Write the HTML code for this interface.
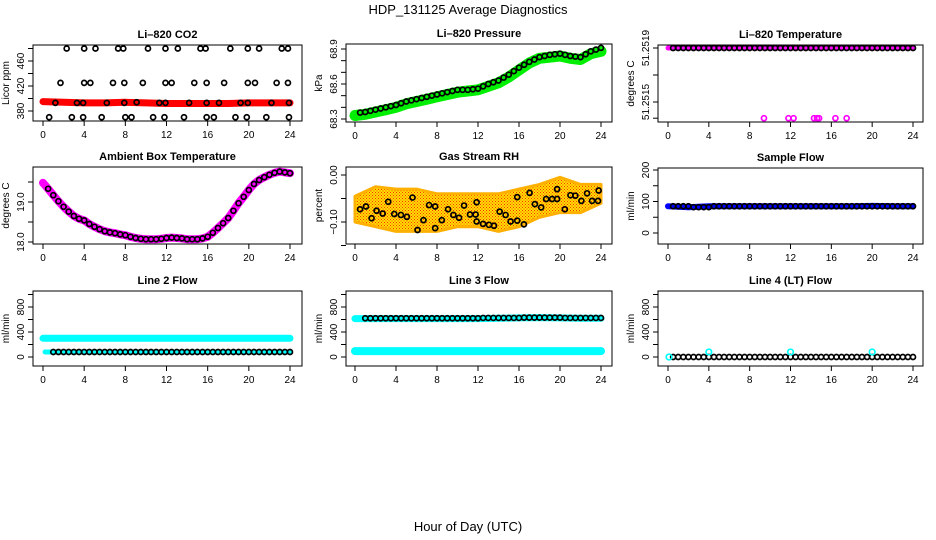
<!DOCTYPE html>
<html><head><meta charset="utf-8"><style>
html,body{margin:0;padding:0;background:#fff;}
svg{display:block;font-family:"Liberation Sans",Arial,sans-serif;}
</style></head><body>
<svg id="c" width="936" height="540" viewBox="0 0 936 540" xmlns="http://www.w3.org/2000/svg">
<text x="468" y="14" font-size="13" text-anchor="middle">HDP_131125  Average Diagnostics</text>
<text x="468" y="531" font-size="13" text-anchor="middle">Hour of Day (UTC)</text>
</svg>
<script>
const HALF = [0.5,1,1.5,2,2.5,3,3.5,4,4.5,5,5.5,6,6.5,7,7.5,8,8.5,9,9.5,10,10.5,11,11.5,12,12.5,13,13.5,14,14.5,15,15.5,16,16.5,17,17.5,18,18.5,19,19.5,20,20.5,21,21.5,22,22.5,23,23.5,24];
const X_TICKS = [0,4,8,12,16,20,24];
const BAND_H = [0,2,4,6,8,10,12,14,16,18,20,22,24];

const CO2_HOURS = [2.3,4.0,5.1,7.3,7.8,10.2,11.9,13.1,15.3,15.8,18.2,19.9,21.0,23.2,23.8, 1.7,4.0,4.6,6.8,7.9,9.7,11.9,12.5,14.7,15.9,17.6,19.9,20.6,22.7,23.8, 1.2,3.3,3.9,6.2,7.9,9.1,11.3,11.9,14.2,15.9,17.1,19.2,19.9,22.2,23.9, 0.6,2.8,3.9,5.7,8.0,8.6,10.7,11.8,13.7,15.9,16.6,18.7,19.8,21.7,23.9];
const CO2_VALUES = [480,480,480,480,480,480,480,480,480,480,480,480,480,480,480, 425,425,425,425,425,425,425,425,425,425,425,425,425,425,425, 393,393,393,393,393,394,393,393,393,393,393,393,393,393,393, 370,370,370,370,370,370,370,370,370,370,370,370,370,370,370];
const CO2_BAND = [395,394,393,393,394,393,392,392,392,392,393,393,393];

const PRES_H = [0,1,2,3,4,5,6,7,8,9,10,11,12,13,14,15,16,17,18,19,20,21,22,23,24];
const PRES_VALUES = [68.35,68.36,68.38,68.40,68.42,68.45,68.47,68.49,68.51,68.53,68.55,68.55,68.56,68.60,68.63,68.68,68.74,68.79,68.83,68.85,68.86,68.84,68.83,68.88,68.91];
const PRES_BAND = [68.33,68.34,68.36,68.38,68.40,68.43,68.45,68.47,68.49,68.51,68.53,68.54,68.55,68.58,68.61,68.66,68.72,68.78,68.82,68.83,68.84,68.82,68.81,68.86,68.88];

const TEMP_TOP = [51.2519,51.2519,51.2519,51.2519,51.2519,51.2519,51.2519,51.2519,51.2519,51.2519,51.2519,51.2519,51.2519,51.2519,51.2519,51.2519,51.2519,51.2519,51.2519,51.2519,51.2519,51.2519,51.2519,51.2519,51.2519,51.2519,51.2519,51.2519,51.2519,51.2519,51.2519,51.2519,51.2519,51.2519,51.2519,51.2519,51.2519,51.2519,51.2519,51.2519,51.2519,51.2519,51.2519,51.2519,51.2519,51.2519,51.2519,51.2519];
const TEMP_LOW_H = [9.4,11.8,12.3,14.3,14.6,14.8,16.4,17.5];
const TEMP_LOW_V = [51.25138,51.25138,51.25138,51.25138,51.25138,51.25138,51.25138,51.25138];

const AMB_H = [0,0.5,1,1.5,2,2.5,3,3.5,4,4.5,5,5.5,6,6.5,7,7.5,8,8.5,9,9.5,10,10.5,11,11.5,12,12.5,13,13.5,14,14.5,15,15.5,16,16.5,17,17.5,18,18.5,19,19.5,20,20.5,21,21.5,22,22.5,23,23.5,24];
const AMB_VALUES = [19.48,19.33,19.17,19.02,18.88,18.76,18.65,18.58,18.54,18.45,18.38,18.32,18.27,18.24,18.22,18.19,18.17,18.13,18.10,18.08,18.07,18.07,18.07,18.08,18.10,18.11,18.10,18.09,18.07,18.07,18.07,18.09,18.13,18.23,18.35,18.47,18.60,18.78,18.97,19.13,19.30,19.45,19.55,19.62,19.68,19.73,19.76,19.74,19.72];

const RH_H = [0.49,1.07,1.62,2.1,2.7,3.24,3.83,4.48,5.06,5.61,6.1,6.68,7.23,7.82,7.82,8.47,9.08,9.6,10.15,10.64,11.22,11.77,11.87,11.87,12.49,13.07,13.56,14.11,14.69,15.18,15.83,15.83,16.48,17.03,17.55,18.16,18.65,19.23,19.72,19.72,20.47,21.02,21.5,22.09,22.64,23.13,23.71,23.77];
const RH_VALUES = [-0.073,-0.067,-0.092,-0.076,-0.082,-0.057,-0.083,-0.085,-0.089,-0.048,-0.117,-0.096,-0.064,-0.067,-0.113,-0.096,-0.073,-0.085,-0.091,-0.065,-0.084,-0.084,-0.058,-0.099,-0.104,-0.106,-0.108,-0.078,-0.085,-0.099,-0.047,-0.097,-0.105,-0.038,-0.062,-0.069,-0.051,-0.051,-0.030,-0.051,-0.073,-0.043,-0.044,-0.055,-0.039,-0.055,-0.055,-0.033];
const RH_UPPER = [-0.045,-0.025,-0.03,-0.03,-0.04,-0.04,-0.04,-0.04,-0.03,-0.02,-0.005,-0.02,-0.02];
const RH_LOWER = [-0.10,-0.11,-0.12,-0.12,-0.12,-0.11,-0.11,-0.12,-0.11,-0.09,-0.08,-0.08,-0.06];

const SF_VALUES = [85,85,85,85,82,82,82,82,85,85,85,85,85,85,85,85,85,85,85,85,85,85,85,85,85,85,85,85,85,85,85,85,85,85,85,85,85,85,85,85,85,85,85,85,85,85,85,85];
const SF_BAND = [85,82,85,85,85,85,85,85,85,85,86,85,85];

const L2_BLACK = [80,80,80,80,80,80,80,80,80,80,80,80,80,80,80,80,80,80,80,80,80,80,80,80,80,80,80,80,80,80,80,80,80,80,80,80,80,80,80,80,80,80,80,80,80,80,80,80];
const L2_CYAN = [300,300,300,300,300,300,300,300,300,300,300,300,300];
const L3_BLACK = [620,620,620,620,620,620,620,620,620,620,620,620,620,620,620,620,620,620,620,620,620,620,620,620,625,625,625,625,625,625,625,625,630,630,630,630,630,630,630,630,625,625,625,625,625,625,625,625];
const L3_CYAN_TOP = [615,615,615,615,615,615,615,620,625,630,625,620,620];
const L3_CYAN_LOW = [95,95,95,95,95,95,95,95,95,95,95,95,95];
const L4_BLACK = [0,0,0,0,0,0,0,0,0,0,0,0,0,0,0,0,0,0,0,0,0,0,0,0,0,0,0,0,0,0,0,0,0,0,0,0,0,0,0,0,0,0,0,0,0,0,0,0];
const L4_CYAN_H = [0.1,4,12,20];
const L4_CYAN_V = [0,80,80,80];

const svg = document.getElementById('c');
const NS = 'http://www.w3.org/2000/svg';
function mk(tag, attrs, parent){
  const e = document.createElementNS(NS, tag);
  for (const k in attrs) e.setAttribute(k, attrs[k]);
  (parent||svg).appendChild(e);
  return e;
}
function panel(name, title, ylab, box, x0, x24, yv1, yp1, yv2, yp2, yTicks, yLabels, showXLabels){
  const g = mk('g', {});
  
  
  const xs = h => x0 + (x24 - x0) * h / 24;
  const ys = v => yp1 + (v - yv1) * (yp2 - yp1) / (yv2 - yv1);
  const t = mk('text', {x:(box.l+box.r)/2, y:box.t-7, 'font-size':11, 'font-weight':'bold', 'text-anchor':'middle'}, g);
  t.textContent = title;
  
  
  const yl = mk('text', {x:0, y:0, 'font-size':10, 'text-anchor':'middle', transform:`translate(${box.l-24},${(box.t+box.b)/2}) rotate(-90)`}, g);
  yl.textContent = ylab;
  
  
  const ax = mk('g', {stroke:'#000', 'stroke-width':1}, g);
  
  
  X_TICKS.forEach(h => {
    mk('line', {x1:xs(h), x2:xs(h), y1:box.b, y2:box.b+5}, ax);
    if (showXLabels) {
      const tl = mk('text', {x:xs(h), y:box.b+17, 'font-size':10, 'text-anchor':'middle', stroke:'none'}, ax);
      tl.textContent = String(h);
    }
  });
  const ay = mk('g', {stroke:'#000', 'stroke-width':1}, g);
  
  
  yTicks.forEach((v, i) => {
    const y = ys(v);
    mk('line', {x1:box.l-5, x2:box.l, y1:y, y2:y}, ay);
    if (yLabels[i]) {
      const tl = mk('text', {x:0, y:0, 'font-size':10, 'text-anchor':'middle', stroke:'none', transform:`translate(${box.l-9},${y}) rotate(-90)`}, ay);
      tl.textContent = yLabels[i];
    }
  });
  const clipId = 'clip-' + name;
  const cp = mk('clipPath', {id:clipId}, g);
  mk('rect', {x:box.l, y:box.t, width:box.r-box.l, height:box.b-box.t}, cp);
  const plot = mk('g', {'clip-path':`url(#${clipId})`}, g);
  mk('rect', {x:box.l, y:box.t, width:box.r-box.l, height:box.b-box.t, fill:'none', stroke:'#000', 'stroke-width':1}, g);
  return {g, plot, xs, ys};
}
function band(p, hs, vs, color, w, nm){
  const d = hs.map((h,i) => (i?'L':'M') + p.xs(h).toFixed(1) + ',' + p.ys(vs[i]).toFixed(1)).join('');
  const e = mk('path', {d, fill:'none', stroke:color, 'stroke-width':w, 'stroke-linecap':'round', 'stroke-linejoin':'round'}, p.plot);
  
  
}
function circles(p, hs, vs, color, nm, r){
  const g = mk('g', {fill:'none', stroke:color, 'stroke-width':1.7}, p.plot);
  
  
  hs.forEach((h,i) => {
    const c = mk('circle', {cx:p.xs(h), cy:p.ys(vs[i]), r:r||2.5}, g);
    
    
  });
}

// Row 1
const p1 = panel('co2', 'Li\u2013820 CO2', 'Licor ppm', {l:33,r:302,t:45,b:121}, 43, 290, 380, 111, 460, 61, [380,400,420,440,460,480], ['380','','420','','460',''], true);
band(p1, BAND_H, CO2_BAND, '#ff0000', 7, 'co2-band');
circles(p1, CO2_HOURS, CO2_VALUES, '#000', 'co2-points');

const p2 = panel('pressure', 'Li\u2013820 Pressure', 'kPa', {l:346,r:612,t:44,b:122}, 355, 601, 68.3, 119, 68.9, 49, [68.3,68.4,68.5,68.6,68.7,68.8,68.9], ['68.3','','','68.6','','','68.9'], true);
band(p2, PRES_H, PRES_BAND, '#00ee00', 11, 'pressure-band');
circles(p2, HALF, HALF.map(h => { const i = Math.min(Math.floor(h), 23); const f = h - i; return PRES_VALUES[i] + (PRES_VALUES[i+1]-PRES_VALUES[i])*f; }), '#000', 'pressure-points');

const p3 = panel('li820-temp', 'Li\u2013820 Temperature', 'degrees C', {l:658,r:923,t:45,b:122}, 668, 913, 51.2515, 102, 51.2519, 48, [51.2519,51.2517,51.2515,51.25138], ['51.2519','','51.2515',''], true);
band(p3, [0,24], [51.2519,51.2519], '#ff00ff', 5, 'li820-temp-band');
circles(p3, HALF, TEMP_TOP, '#000', 'li820-temp-points');
circles(p3, TEMP_LOW_H, TEMP_LOW_V, '#ff00ff', 'li820-temp-low-points');

// Row 2
const p4 = panel('ambient', 'Ambient Box Temperature', 'degrees C', {l:33,r:302,t:167,b:244}, 43, 290, 18, 242, 19, 202, [18,18.5,19,19.5], ['18.0','','19.0',''], true);
band(p4, AMB_H, AMB_VALUES, '#ff00ff', 8, 'ambient-band');
circles(p4, AMB_H.slice(1), AMB_VALUES.slice(1), '#000', 'ambient-points');

const p5 = panel('rh', 'Gas Stream RH', 'percent', {l:346,r:612,t:167,b:244}, 355, 601, 0, 175, -0.1, 222, [0,-0.05,-0.1,-0.15], ['0.00','','\u22120.10',''], true);
const defs = mk('defs', {});
const pat = mk('pattern', {id:'rhpat', width:3, height:3, patternUnits:'userSpaceOnUse'}, defs);
mk('rect', {width:3, height:3, fill:'#ffe000'}, pat);
mk('rect', {width:1, height:1, fill:'#ff3000'}, pat);
mk('rect', {x:1.5, y:1.5, width:1, height:1, fill:'#ff3000'}, pat);
{
  const up = BAND_H.map((h,i) => p5.xs(h).toFixed(1) + ',' + p5.ys(RH_UPPER[i]).toFixed(1));
  const lo = BAND_H.map((h,i) => p5.xs(h).toFixed(1) + ',' + p5.ys(RH_LOWER[i]).toFixed(1)).reverse();
  const e = mk('polygon', {points: up.concat(lo).join(' '), fill:'url(#rhpat)', stroke:'#ffb000', 'stroke-width':3, 'stroke-linejoin':'round'}, p5.plot);
  
  
}
circles(p5, RH_H, RH_VALUES, '#000', 'rh-points');

const p6 = panel('sample-flow', 'Sample Flow', 'ml/min', {l:658,r:923,t:168,b:244}, 668, 913, 0, 233, 200, 170, [0,50,100,150,200], ['0','','100','','200'], true);
band(p6, BAND_H, SF_BAND, '#0000ff', 6, 'sample-flow-band');
circles(p6, HALF, SF_VALUES, '#000', 'sample-flow-points');

// Row 3
const p7 = panel('line2', 'Line 2 Flow', 'ml/min', {l:33,r:302,t:291,b:366}, 43, 290, 0, 357, 800, 307, [0,200,400,600,800,1000], ['0','','400','','800',''], true);
band(p7, BAND_H, L2_CYAN, '#00ffff', 7, 'line2-cyan-band');
band(p7, [0.2,24], [80,80], '#00ffff', 5, 'line2-cyan-low');
circles(p7, HALF.slice(1), L2_BLACK.slice(1), '#000', 'line2-points');

const p8 = panel('line3', 'Line 3 Flow', 'ml/min', {l:346,r:612,t:291,b:366}, 355, 601, 0, 357, 800, 307, [0,200,400,600,800,1000], ['0','','400','','800',''], true);
band(p8, BAND_H, L3_CYAN_TOP, '#00ffff', 7, 'line3-cyan-top');
band(p8, BAND_H, L3_CYAN_LOW, '#00ffff', 8, 'line3-cyan-low');
circles(p8, HALF.slice(1), L3_BLACK.slice(1), '#000', 'line3-points');

const p9 = panel('line4', 'Line 4 (LT) Flow', 'ml/min', {l:658,r:923,t:291,b:366}, 668, 913, 0, 357, 800, 307, [0,200,400,600,800,1000], ['0','','400','','800',''], true);
circles(p9, HALF, L4_BLACK, '#000', 'line4-points');
circles(p9, L4_CYAN_H, L4_CYAN_V, '#00ffff', 'line4-cyan-points', 2.8);
</script>
</body></html>
